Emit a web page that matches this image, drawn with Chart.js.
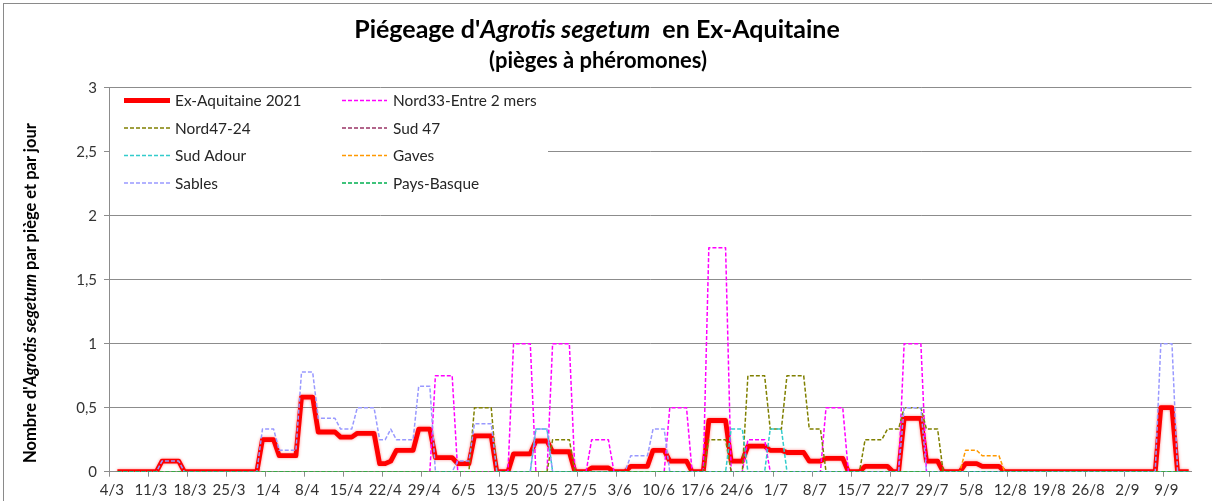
<!DOCTYPE html>
<html>
<head>
<meta charset="utf-8">
<script src="https://cdn.jsdelivr.net/npm/chart.js@4.4.0/dist/chart.umd.min.js"></script>
<style>
html,body{margin:0;padding:0;background:#fff;overflow:hidden;}
#wrap{position:relative;width:1212px;height:501px;overflow:hidden;font-family:Lato,"Liberation Sans",sans-serif;color:#000;}
#frame{position:absolute;left:3px;top:3px;width:1240px;height:530px;border:1px solid #8a8a8a;box-sizing:border-box;}
canvas{position:absolute;left:0;top:0;}
.t1{position:absolute;left:0;width:1194px;text-align:center;top:13px;font-weight:bold;font-size:25px;line-height:30px;white-space:pre;}
.t2{position:absolute;left:0;width:1196px;text-align:center;top:47px;font-weight:bold;font-size:22px;line-height:26px;}
.yt{position:absolute;left:30px;top:293px;transform:translate(-50%,-50%) rotate(-90deg);white-space:nowrap;font-weight:bold;font-size:16.5px;line-height:20px;}
</style>
</head>
<body>
<div id="wrap">
  <canvas id="c" width="1212" height="501"></canvas>
  <div id="frame"></div>
  <div class="t1">Piégeage d'<i>Agrotis segetum</i>  en Ex-Aquitaine</div>
  <div class="t2">(pièges à phéromones)</div>
  <div class="yt">Nombre d'<i>Agrotis segetum</i> par piège et par jour</div>
</div>
<script>
// ---- tick labels shown on the x axis (one every 7 days) ----
const tickLabels = ['4/3','11/3','18/3','25/3','1/4','8/4','15/4','22/4','29/4','6/5','13/5','20/5','27/5','3/6','10/6','17/6','24/6','1/7','8/7','15/7','22/7','29/7','5/8','12/8','19/8','26/8','2/9','9/9'];

// ---- daily categories, 4/3 to 13/9 ----
const monthLengths = {3:31,4:30,5:31,6:30,7:31,8:31,9:30};
const categories = [];
(function(){ let d = 4, m = 3; for (let k = 0; k < 194; k++) { categories.push(d + '/' + m); d++; if (d > monthLengths[m]) { d = 1; m++; } } })();

// ---- series (one row per week, starting on the tick date) ----
const exAquitaine2021 = [
null,0,0,0,0,0,0,
0,0,.083,.083,.083,.083,0,
0,0,0,0,0,0,0,
0,0,0,0,0,0,.25,
.25,.25,.125,.125,.125,.125,.583,
.583,.583,.31,.31,.31,.31,.27,
.27,.27,.3,.3,.3,.3,.0625,
.0625,.083,.167,.167,.167,.167,.333,
.333,.333,.11,.11,.11,.11,.0625,
.0625,.0625,.28,.28,.28,.28,0,
0,0,.14,.14,.14,.14,.24,
.24,.24,.156,.156,.156,.156,0,
0,0,.03,.03,.03,.03,0,
0,0,.042,.042,.042,.042,.167,
.167,.167,.083,.083,.083,.083,0,
0,0,.4,.4,.4,.4,.083,
.083,.083,.2,.2,.2,.2,.167,
.167,.167,.15,.15,.15,.15,.083,
.083,.083,.104,.104,.104,.104,0,
0,0,.042,.042,.042,.042,.042,
0,0,.417,.417,.417,.417,.083,
.083,.083,0,0,0,0,.0625,
.0625,.0625,.042,.042,.042,.042,0,
0,0,0,0,0,0,0,
0,0,0,0,0,0,0,
0,0,0,0,0,0,0,
0,0,0,0,0,0,.5,
.5,.5,0,0,0
];
const nord33 = [
null,0,0,0,0,0,0,
0,0,0,0,0,0,0,
0,0,0,0,0,0,0,
0,0,0,0,0,0,0,
0,0,0,0,0,0,0,
0,0,0,0,0,0,0,
0,0,0,0,0,0,0,
0,0,0,0,0,0,0,
0,0,.75,.75,.75,.75,0,
0,0,0,0,0,0,0,
0,0,1,1,1,1,0,
0,0,1,1,1,1,0,
0,0,.25,.25,.25,.25,0,
0,0,0,0,0,0,0,
0,0,.5,.5,.5,.5,0,
0,0,1.75,1.75,1.75,1.75,0,
0,0,.25,.25,.25,.25,0,
0,0,0,0,0,0,0,
0,0,.5,.5,.5,.5,0,
0,0,0,0,0,0,0,
0,0,1,1,1,1,0,
0,0,0,0,0,0,0,
0,0,0,0,0,0,0,
0,0,0,0,0,0,0,
0,0,0,0,0,0,0,
0,0,0,0,0,0,0,
0,0,0,0,0,0,0,
0,0,0,0,0
];
const nord47_24 = [
null,0,0,0,0,0,0,
0,0,0,0,0,0,0,
0,0,0,0,0,0,0,
0,0,0,0,0,0,0,
0,0,0,0,0,0,0,
0,0,0,0,0,0,0,
0,0,0,0,0,0,0,
0,0,0,0,0,0,0,
0,0,0,0,0,0,0,
0,0,.5,.5,.5,.5,0,
0,0,0,0,0,0,0,
0,0,.25,.25,.25,.25,0,
0,0,0,0,0,0,0,
0,0,0,0,0,0,0,
0,0,0,0,0,0,0,
0,0,.25,.25,.25,.25,0,
0,0,.75,.75,.75,.75,.333,
.333,.333,.75,.75,.75,.75,.333,
.333,.333,0,0,0,0,0,
0,0,.25,.25,.25,.25,.333,
.333,.333,.5,.5,.5,.5,.333,
.333,.333,0,0,0,0,0,
0,0,0,0,0,0,0,
0,0,0,0,0,0,0,
0,0,0,0,0,0,0,
0,0,0,0,0,0,0,
0,0,0,0,0,0,0,
0,0,0,0,0
];
const sud47 = [
null,0,0,0,0,0,0,
0,0,0,0,0,0,0, 0,0,0,0,0,0,0, 0,0,0,0,0,0,0, 0,0,0,0,0,0,0,
0,0,0,0,0,0,0, 0,0,0,0,0,0,0, 0,0,0,0,0,0,0, 0,0,0,0,0,0,0,
0,0,0,0,0,0,0, 0,0,0,0,0,0,0, 0,0,0,0,0,0,0, 0,0,0,0,0,0,0,
0,0,0,0,0,0,0, 0,0,0,0,0,0,0, 0,0,0,0,0,0,0, 0,0,0,0,0,0,0,
0,0,0,0,0,0,0, 0,0,0,0,0,0,0, 0,0,0,0,0,0,0, 0,0,0,0,0,0,0,
0,0,0,0,0,0,0, 0,0,0,0,0,0,0, 0,0,0,0,0,0,0, 0,0,0,0,0,0,0,
0,0,0,0,0,0,0, 0,0,0,0,0,0,0,
0,0,0,0,0
];
const sudAdour = [
null,0,0,0,0,0,0,
0,0,0,0,0,0,0,
0,0,0,0,0,0,0,
0,0,0,0,0,0,0,
0,0,0,0,0,0,0,
0,0,0,0,0,0,0,
0,0,0,0,0,0,0,
0,0,0,0,0,0,0,
0,0,0,0,0,0,0,
0,0,0,0,0,0,0,
0,0,0,0,0,0,.333,
.333,.333,0,0,0,0,0,
0,0,0,0,0,0,0,
0,0,0,0,0,0,0,
0,0,0,0,0,0,0,
0,0,0,0,0,0,.333,
.333,.333,0,0,0,0,.333,
.333,.333,0,0,0,0,0,
0,0,0,0,0,0,0,
0,0,0,0,0,0,0,
0,0,0,0,0,0,0,
0,0,0,0,0,0,0,
0,0,0,0,0,0,0,
0,0,0,0,0,0,0,
0,0,0,0,0,0,0,
0,0,0,0,0,0,0,
0,0,0,0,0,0,0,
0,0,0,0,0
];
const gaves = [
null,0,0,0,0,0,0,
0,0,0,0,0,0,0, 0,0,0,0,0,0,0, 0,0,0,0,0,0,0, 0,0,0,0,0,0,0,
0,0,0,0,0,0,0, 0,0,0,0,0,0,0, 0,0,0,0,0,0,0, 0,0,0,0,0,0,0,
0,0,0,0,0,0,0, 0,0,0,0,0,0,0, 0,0,0,0,0,0,0, 0,0,0,0,0,0,0,
0,0,0,0,0,0,0, 0,0,0,0,0,0,0, 0,0,0,0,0,0,0, 0,0,0,0,0,0,0,
0,0,0,0,0,0,0, 0,0,0,0,0,0,0, 0,0,0,0,0,0,0, 0,0,0,0,0,0,0,
0,0,0,0,0,0,.167,
.167,.167,.125,.125,.125,.125,0,
0,0,0,0,0,0,0, 0,0,0,0,0,0,0, 0,0,0,0,0,0,0, 0,0,0,0,0,0,0,
0,0,0,0,0
];
const sables = [
null,0,0,0,0,0,0,
0,0,.083,.083,.083,.083,0,
0,0,0,0,0,0,0,
0,0,0,0,0,0,.333,
.333,.333,.167,.167,.167,.167,.778,
.778,.778,.417,.417,.417,.417,.333,
.333,.333,.5,.5,.5,.5,.25,
.25,.333,.25,.25,.25,.25,.667,
.667,.667,0,0,0,0,.083,
.083,.083,.375,.375,.375,.375,0,
0,0,0,0,0,0,.333,
.333,.333,0,0,0,0,0,
0,0,0,0,0,0,0,
0,0,.125,.125,.125,.125,.333,
.333,.333,0,0,0,0,0,
0,0,0,0,0,0,0,
0,0,0,0,0,0,0,
0,0,0,0,0,0,0,
0,0,0,0,0,0,0,
0,0,0,0,0,0,0,
0,0,.5,.5,.5,.5,0,
0,0,0,0,0,0,0,
0,0,0,0,0,0,0,
0,0,0,0,0,0,0,
0,0,0,0,0,0,0,
0,0,0,0,0,0,0,
0,0,0,0,0,0,1,
1,1,0,0,0
];
const paysBasque = [
null,0,0,0,0,0,0,
0,0,0,0,0,0,0, 0,0,0,0,0,0,0, 0,0,0,0,0,0,0, 0,0,0,0,0,0,0,
0,0,0,0,0,0,0, 0,0,0,0,0,0,0, 0,0,0,0,0,0,0, 0,0,0,0,0,0,0,
0,0,0,0,0,0,0, 0,0,0,0,0,0,0, 0,0,0,0,0,0,0, 0,0,0,0,0,0,0,
0,0,0,0,0,0,0, 0,0,0,0,0,0,0, 0,0,0,0,0,0,0, 0,0,0,0,0,0,0,
0,0,0,0,0,0,0, 0,0,0,0,0,0,0, 0,0,0,0,0,0,0, 0,0,0,0,0,0,0,
0,0,0,0,0,0,0, 0,0,0,0,0,0,0, 0,0,0,0,0,0,0, 0,0,0,0,0,0,0,
0,0,0,0,0,0,0, 0,0,0,0,0,0,0,
0,0,0,0,0
];

const seriesLabels = ['Ex-Aquitaine 2021','Nord33-Entre 2 mers','Nord47-24','Sud 47','Sud Adour','Gaves','Sables','Pays-Basque'];
const seriesData = [exAquitaine2021, nord33, nord47_24, sud47, sudAdour, gaves, sables, paysBasque];
const seriesColors = ['#FF0000','#FF00FF','#808000','#993366','#33CCCC','#FF9900','#9999FF','#00B050'];

const datasets = seriesData.map((d, k) => ({
  label: seriesLabels[k],
  data: d,
  borderColor: seriesColors[k],
  backgroundColor: seriesColors[k],
  borderWidth: k === 0 ? 4.8 : 1.5,
  borderDash: k === 0 ? [] : [4, 2],
  borderJoinStyle: 'round',
  borderCapStyle: 'butt',
  pointRadius: 0,
  pointHoverRadius: 0,
  tension: 0,
  fill: false,
  spanGaps: false,
  order: seriesData.length - k
}));

const GRID = '#8c8c8c';
const FONT = 'Lato, "Liberation Sans", sans-serif';

const glowPlugin = {
  id: 'glow',
  beforeDatasetDraw(chart, args) {
    if (args.index === 0) { const c = chart.ctx; c.save(); c.shadowColor = 'rgba(255,0,0,0.45)'; c.shadowBlur = 3; }
  },
  afterDatasetDraw(chart, args) {
    if (args.index === 0) chart.ctx.restore();
  }
};

const legendPlugin = {
  id: 'insideLegend',
  beforeDatasetsDraw(chart) {
    const c = chart.ctx, a = chart.chartArea;
    c.save();
    c.fillStyle = '#ffffff';
    c.fillRect(a.left + 1, a.top + 2, 548 - a.left - 1, 200 - a.top);
    const colLine = [[124, 170], [342, 387]];
    const colText = [175, 393];
    const rowY = [100.5, 128, 155.5, 183];
    c.font = '15.4px ' + FONT;
    c.textBaseline = 'middle';
    c.textAlign = 'left';
    chart.data.datasets.forEach((ds, k) => {
      const col = k % 2, row = Math.floor(k / 2);
      const y = rowY[row];
      c.beginPath();
      c.setLineDash(ds.borderDash || []);
      c.lineWidth = ds.borderWidth;
      c.strokeStyle = ds.borderColor;
      c.lineCap = 'butt';
      c.moveTo(colLine[col][0], y);
      c.lineTo(colLine[col][1], y);
      c.stroke();
      c.setLineDash([]);
      c.fillStyle = '#262626';
      c.fillText(ds.label, colText[col], y + 1);
    });
    c.restore();
  }
};

function build() {
  new Chart(document.getElementById('c'), {
    type: 'line',
    data: { labels: categories, datasets },
    plugins: [glowPlugin, legendPlugin],
    options: {
      responsive: false,
      animation: false,
      events: [],
      layout: { padding: { left: 0, top: 87.7, right: 20.5, bottom: 0 } },
      plugins: { legend: { display: false }, title: { display: false }, tooltip: { enabled: false } },
      scales: {
        x: {
          type: 'category',
          offset: true,
          grid: {
            offset: true,
            drawOnChartArea: false,
            drawTicks: true,
            tickLength: 5,
            color: 'rgba(0,0,0,0)',
            tickColor: (ctx) => (ctx.index % 7 === 0 ? GRID : 'rgba(0,0,0,0)')
          },
          border: { display: true, color: GRID, width: 1 },
          ticks: {
            autoSkip: false, maxRotation: 0, minRotation: 0, padding: 4,
            color: '#333333', font: { family: FONT, size: 15 },
            callback: (v, i) => (i % 7 === 0 ? tickLabels[i / 7] : '')
          },
          afterFit: (s) => { s.height = 29.3; }
        },
        y: {
          min: 0, max: 3,
          ticks: {
            stepSize: 0.5, padding: 7, color: '#333333', font: { family: FONT, size: 15 },
            callback: (v) => String(v).replace('.', ',')
          },
          grid: { color: GRID, lineWidth: 1, tickLength: 5, tickColor: GRID },
          border: { display: true, color: GRID, width: 1 },
          afterFit: (s) => { s.width = 109; }
        }
      }
    }
  });
}

if (document.fonts && document.fonts.load) {
  Promise.all([
    document.fonts.load('15px Lato'),
    document.fonts.load('bold 21px Lato'),
    document.fonts.load('italic bold 21px Lato')
  ]).then(build, build);
} else { build(); }
</script>
</body>
</html>
